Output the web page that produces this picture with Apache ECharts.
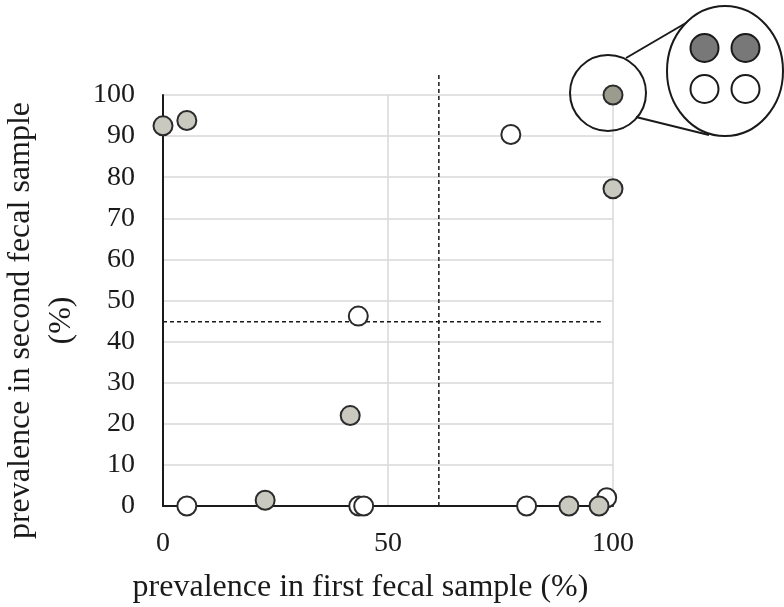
<!DOCTYPE html>
<html>
<head>
<meta charset="utf-8">
<script src="https://cdn.jsdelivr.net/npm/echarts@6/dist/echarts.min.js"></script>
<style>
  html, body { margin: 0; padding: 0; background: #fff; }
  #chart { width: 784px; height: 607px; }
</style>
</head>
<body>
<div id="chart"></div>
<script>
// Prevalence (%) of each taxon in the first (x) and second (y) fecal sample
const filledPoints = [[0, 92.5], [5.3, 93.8], [41.6, 22], [22.7, 1.4], [90.2, 0], [96.9, 0], [100, 77.2]];
const openPoints = [[5.3, 0], [43.5, 0], [44.6, 0], [80.8, 0], [98.6, 2], [43.4, 46.2], [77.3, 90.4]];
const stackedPoint = [[100, 100]];
// Threshold lines (x = 61.3 %, y = 44.8 %)
const xThreshold = 61.3;
const yThreshold = 44.8;
const yTicks = [0, 10, 20, 30, 40, 50, 60, 70, 80, 90, 100];
const xTicks = [0, 50, 100];

const FONT = '"Liberation Serif", "DejaVu Serif", serif';
const chart = echarts.init(document.getElementById('chart'));

const pointStyle = (fill) => ({ color: fill, borderColor: '#2b2b2b', borderWidth: 2, opacity: 1 });

chart.setOption({
  animation: false,
  backgroundColor: '#fff',
  grid: { left: 163, top: 95, width: 450, height: 411, containLabel: false, outerBoundsMode: 'none' },
  xAxis: {
    type: 'value', min: 0, max: 100, interval: 50,
    name: 'prevalence in first fecal sample (%)',
    nameLocation: 'middle', nameGap: 66,
    nameTextStyle: { fontFamily: FONT, fontSize: 32, color: '#1a1a1a', padding: [0, 55, 0, 0] },
    axisLine: { show: true, onZero: false, lineStyle: { color: '#1a1a1a', width: 2 } },
    axisTick: { show: false },
    axisLabel: { fontFamily: FONT, fontSize: 28, color: '#1a1a1a', margin: 24,
      formatter: v => xTicks.includes(v) ? String(v) : '' },
    splitLine: { show: true, lineStyle: { color: '#d9d9d9', width: 1.5 } }
  },
  yAxis: {
    type: 'value', min: 0, max: 100, interval: 10,
    name: 'prevalence in second fecal sample\n(%)',
    nameLocation: 'middle', nameGap: 74, nameRotate: 90,
    nameTextStyle: { fontFamily: FONT, fontSize: 32, color: '#1a1a1a', lineHeight: 41, align: 'center',
      padding: [0, 40, 0, 0] },
    axisLine: { show: true, onZero: false, lineStyle: { color: '#1a1a1a', width: 2 } },
    axisTick: { show: false },
    axisLabel: { fontFamily: FONT, fontSize: 28, color: '#1a1a1a', margin: 28,
      formatter: v => yTicks.includes(v) ? String(v) : '' },
    splitLine: { show: true, lineStyle: { color: '#d9d9d9', width: 1.5 } }
  },
  series: [
    {
      type: 'line', data: [[xThreshold, 0], [xThreshold, 105]], symbol: 'none', clip: false,
      lineStyle: { color: '#1a1a1a', width: 1.5, type: [4, 3] }, z: 3, silent: true
    },
    {
      type: 'line', data: [[0, yThreshold], [97.3, yThreshold]], symbol: 'none', clip: false,
      lineStyle: { color: '#1a1a1a', width: 1.5, type: [4, 3] }, z: 3, silent: true
    },
    {
      type: 'scatter', data: openPoints, symbolSize: 19, clip: false,
      itemStyle: pointStyle('#ffffff'), z: 5
    },
    {
      type: 'scatter', data: filledPoints, symbolSize: 19, clip: false,
      itemStyle: pointStyle('#c9c9c0'), z: 6
    },
    {
      type: 'scatter', data: stackedPoint, symbolSize: 19, clip: false,
      itemStyle: pointStyle('#9c9c8e'), z: 7
    }
  ]
});

// Magnifier showing the four overlapping taxa at (100, 100)
const [px, py] = chart.convertToPixel({ gridIndex: 0 }, stackedPoint[0]);
const lens = { cx: px - 5, cy: py - 2, r: 38 };
const big = { cx: px + 112, cy: py - 24, rx: 58, ry: 65 };
const stroke = { stroke: '#1a1a1a', lineWidth: 2 };
const dot = (dx, dy, fill) => ({
  type: 'circle', shape: { cx: big.cx + dx, cy: big.cy + dy, r: 14 },
  style: { fill, stroke: '#1a1a1a', lineWidth: 2 }, z: 20
});
chart.setOption({
  graphic: [
    { type: 'circle', shape: { cx: lens.cx, cy: lens.cy, r: lens.r }, style: { fill: 'none', ...stroke }, z: 10 },
    { type: 'line', shape: { x1: px + 13, y1: py - 37, x2: px + 78, y2: py - 75 }, style: stroke, z: 10 },
    { type: 'line', shape: { x1: px + 23, y1: py + 22, x2: px + 96, y2: py + 40 }, style: stroke, z: 10 },
    { type: 'ellipse', shape: { cx: big.cx, cy: big.cy, rx: big.rx, ry: big.ry }, style: { fill: '#fff', ...stroke }, z: 15 },
    dot(-20.5, -23, '#787878'),
    dot(20.5, -23, '#787878'),
    dot(-20.5, 18, '#ffffff'),
    dot(20.5, 18, '#ffffff')
  ]
});
</script>
</body>
</html>
